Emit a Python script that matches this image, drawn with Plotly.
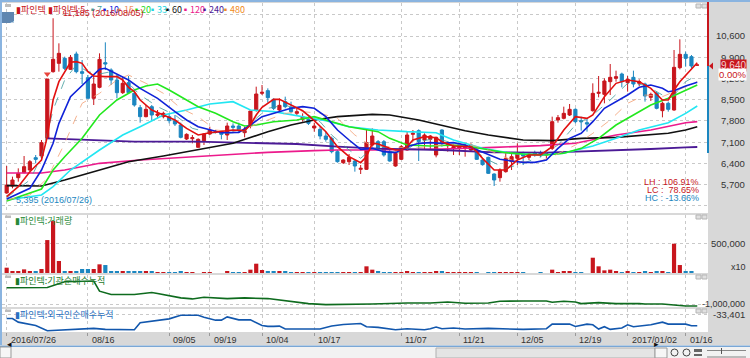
import plotly.graph_objects as go

# ---------- data ----------
opens = [5420,5650,5925,6090,6178,6585,6640,7223,9423,9698,9863,9500,10006,9423,9225,8543,8906,9720,9478,9148,
         8730,9060,8708,8235,7938,8268,7982,7938,7938,7806,7663,7201,7212,6926,7146,7366,7421,7410,7333,7630,
         7630,7410,7641,8158,8708,8796,8510,8158,8433,8246,8048,7850,7850,7564,7520,7300,7223,6783,6420,6453,
         6475,6200,6200,7003,7113,7113,6783,6310,6530,6838,7355,7476,7168,7190,6673,7498,6981,6893,6893,6893,
         6838,6838,6508,6596,6046,5925,6123,6453,6563,6728,6596,6750,6750,6673,6893,7828,7883,7993,8180,7806,
         7740,8136,8708,8675,9093,9203,9346,9060,9236,9038,9016,8576,8708,8136,8378,8158,9555,9995,9918,9640]
closes = [5680,5848,6068,6288,6453,6530,7080,9181,9830,10028,9533,9896,9423,9368,8543,9016,9830,9676,9148,8730,
          9038,8730,8323,7938,8180,7993,8026,8048,7806,7696,7256,7355,7245,7190,7366,7498,7443,7355,7630,7586,
          7476,7476,8125,8686,8741,8565,8213,8312,8268,8103,8103,7938,7718,7630,7300,7190,6783,6453,6508,6596,
          6310,6233,7080,7300,6893,6673,6475,6728,6948,7333,7388,7113,7333,7300,7256,7058,7036,6948,6948,6970,
          7003,6530,6354,6068,5848,6178,6563,6618,6728,6640,6706,6706,6706,6728,7773,7905,8048,8180,7773,7773,
          7696,8708,8741,9115,9236,9258,9093,9170,9016,9093,8620,8675,8213,8378,8180,9566,9995,9863,9610,9640]
highs = [6310,5958,6233,6640,6508,6673,7168,9181,11185,10358,9918,9973,10083,9808,9313,9313,10028,10391,9533,9313,
         9258,9280,8763,8323,8323,8323,8158,8103,8048,7993,7740,7388,7333,7223,7388,7608,7498,7443,7740,7718,
         7740,7608,8125,8928,8983,8873,8543,8543,8598,8433,8213,8048,7938,7740,7608,7443,7278,6838,6530,6706,
         6530,6343,7498,7553,7168,7168,6860,6783,7003,7443,7498,7520,7388,7333,7278,7520,7113,7036,7003,7058,
         7058,6893,6530,6618,6068,6233,6728,6728,7058,6783,6750,6816,6816,6783,7938,7993,8268,8356,8213,7938,
         7883,9038,9280,9203,9676,9456,9390,9280,9456,9170,9060,8730,8763,8433,8433,10138,10490,10083,9973,9660]
lows = [5395,5573,5793,6068,6156,6398,6530,7223,9390,9423,9478,9478,9368,9016,8543,8323,8873,9478,8983,8543,
        8686,8686,8268,7740,7916,7806,7883,7883,7718,7630,7223,7168,7058,6926,7003,7333,7388,7190,7168,7443,
        7410,7256,7553,8103,8653,8400,8158,8103,8213,8048,7993,7773,7663,7443,7190,7113,6728,6420,6376,6343,
        6123,6046,6178,6948,6838,6618,6453,6288,6508,6816,7113,6475,6838,6838,6596,6948,6783,6673,6673,6618,
        6783,6508,6321,6046,5650,5793,6090,6178,6343,6343,6508,6618,6596,6563,6838,7740,7850,7960,7718,7476,
        7443,8103,8576,8378,8653,9093,8906,8763,8906,8950,8433,8455,8180,7916,8103,8136,9500,9588,9533,9620]

volume = [91000,23000,23000,62000,23000,23000,68000,562000,886000,205000,28000,28000,23000,68000,68000,68000,148000,136000,34000,34000,
          34000,23000,23000,34000,23000,23000,17000,17000,17000,17000,23000,17000,17000,0,17000,17000,0,0,23000,17000,
          17000,17000,57000,159000,51000,23000,28000,28000,28000,17000,17000,17000,17000,17000,17000,17000,17000,17000,11000,11000,
          17000,17000,114000,57000,23000,17000,11000,11000,11000,28000,17000,11000,11000,17000,34000,23000,11000,11000,11000,11000,
          11000,11000,0,11000,17000,11000,11000,11000,11000,11000,0,0,11000,0,57000,17000,34000,34000,17000,17000,
          0,261000,114000,45000,57000,23000,11000,23000,17000,17000,34000,17000,23000,23000,17000,500000,136000,34000,34000,0]

tick_index = [0,14,28,35,44,53,68,78,88,98,107,117]
tick_dates = ["2016/07/26","08/16","09/05","09/19","10/04","10/17","11/07","11/21","12/05","12/19","2017/01/02","01/16"]
price_ticks = [5700,6400,7100,7800,8500,9200,9900,10600]
price_grid = [5000,5700,6400,7100,7800,8500,9200,9900,10600,11300]

ma5_x = [0,2,4,6,7,8,9,11,12,13,14,15,17,19,20,21,22,23,25,27,29,31,33,35,37,39,41,42,43,44,46,47,49,51,53,55,57,59,61,62,63,64,66,67,68,69,70,72,74,75,77,79,80,81,82,84,86,88,90,92,94,96,98,100,101,103,105,107,109,111,113,114,115,116,118,119]
ma5_y = [5300,5628,6123,6508,7278,8488,9093,9731,9753,9698,9423,9280,9258,9258,9148,8906,8763,8488,8158,7993,7828,7553,7333,7410,7443,7498,7476,7663,7993,8246,8510,8510,8323,8136,7806,7443,6948,6618,6420,6618,7058,7036,6893,6838,6838,6948,7168,7278,7245,7113,6970,6948,6948,6783,6563,6178,6178,6508,6673,6673,6948,7498,7938,7883,7993,8598,9038,9148,9093,8873,8488,8488,8818,9093,9533,9720]
ma7_x = [0,4,6,8,10,12,14,16,18,21,23,26,29,32,35,38,41,43,45,48,51,54,56,59,61,63,65,68,71,74,77,80,83,86,89,92,95,98,101,104,107,110,113,115,117,119]
ma7_y = [5265,5848,6618,8158,9148,9643,9423,9346,9423,9038,8653,8268,7993,7553,7410,7388,7443,7883,8213,8323,8103,7773,7333,6838,6563,6893,6838,6728,7113,7223,7058,6893,6508,6233,6398,6618,7003,7663,7993,8488,9038,8983,8653,8653,9093,9313]
ma10_x = [0,4,6,8,9,11,14,16,17,19,21,23,26,29,31,33,35,37,40,42,44,47,49,51,53,55,57,59,61,63,65,67,69,71,73,75,77,79,81,83,85,87,89,91,93,95,97,99,101,103,105,107,109,111,113,114,115,117,119]
ma10_y = [5221,5573,6178,7058,7718,8598,9148,9500,9533,9346,9148,8873,8543,8103,7828,7608,7498,7410,7421,7663,7938,8103,8213,8268,8213,7938,7498,7168,6860,6893,6783,6750,6948,7058,7080,7058,7080,7003,6838,6673,6530,6475,6431,6431,6508,6893,7223,7388,7773,8213,8433,8653,8906,8983,8873,8763,8796,8950,9071]
ma15_x = [0,4,7,10,13,16,19,21,24,27,30,33,36,39,42,45,48,51,54,57,60,63,66,70,75,79,83,87,91,94,98,101,104,107,110,113,117,119]
ma15_y = [5188,5353,5903,7058,8378,8708,9148,9313,9038,8708,8213,7938,7498,7443,7608,7828,8048,8103,8048,7883,7333,6948,6948,6893,7003,7058,6838,6508,6398,6618,7003,7388,7828,8378,8653,8598,8928,9093]
ma20_x = [0,6,8,10,13,16,19,22,24,26,28,31,33,36,39,41,43,46,50,53,56,59,63,64,66,69,73,77,80,83,86,89,93,96,99,102,105,108,111,114,117,119]
ma20_y = [5155,5551,6178,6618,7223,7993,8488,8818,8950,9016,8818,8488,8268,8048,7773,7630,7663,7773,7828,7938,7773,7608,7476,7443,7223,7003,6970,7003,6948,6860,6750,6706,6673,6728,6893,7223,7663,7993,8323,8543,8818,8983]
ma33_x = [0,6,8,11,16,20,23,27,31,35,39,42,46,51,55,59,64,69,74,77,82,87,92,96,101,105,109,114,117,119]
ma33_y = [5188,5353,5628,6178,6838,7333,7608,7993,8158,8356,8433,8158,8103,7938,7806,7608,7498,7443,7410,7168,6893,6728,6673,6728,6970,7223,7498,7740,8048,8290]
ma60_x = [0,6,10,16,21,27,33,39,45,49,53,57,63,66,71,79,83,89,94,99,105,111,114,117,119]
ma60_y = [5661,5650,5848,6178,6453,6640,6838,7058,7443,7663,7828,7938,8015,7993,7828,7476,7333,7168,7146,7223,7256,7333,7388,7498,7608]
ma120_x = [0,6,10,16,23,31,39,45,53,57,63,75,84,92,98,105,111,114,117,119]
ma120_y = [6079,6079,6178,6398,6508,6596,6673,6761,6816,6838,6838,6871,6926,6981,7058,7333,7498,7608,7740,7773]
ma240_x = [7,14,22,33,42,50,57,64,75,84,93,99,105,111,117,119]
ma240_y = [7223,7168,7113,7113,7080,7036,6948,6882,6838,6761,6750,6783,6838,6871,6926,6937]

inst_x = [0,7,10,15,16,18,22,25,26,30,32,34,38,41,45,48,52,55,60,63,69,73,76,79,83,85,89,93,94,96,98,99,102,105,109,110,113,115,117,119]
inst_y = [-755000,-750000,-665000,-655000,-805000,-855000,-855000,-825000,-840000,-905000,-920000,-895000,-915000,-905000,-915000,-950000,-990000,-1005000,-1005000,-995000,-980000,-980000,-965000,-985000,-980000,-955000,-950000,-950000,-970000,-955000,-965000,-990000,-975000,-990000,-990000,-995000,-995000,-1015000,-1025000,-1025000]
fore_x = [0,1,2,5,7,8,12,15,17,22,23,24,26,28,30,33,34,36,37,38,40,42,44,45,46,47,48,54,56,58,61,62,64,65,67,69,72,73,74,75,77,79,83,89,93,94,97,98,100,101,102,103,104,106,107,108,110,111,113,114,117,118,119]
fore_y = [-36000,-36000,-38200,-40200,-43400,-43200,-42400,-42000,-42600,-42800,-38600,-38200,-37000,-36200,-34000,-34000,-35200,-37000,-37000,-35000,-36800,-36800,-40200,-40800,-40800,-40600,-42400,-42400,-40600,-39600,-39000,-41000,-41400,-41800,-42800,-42200,-42800,-42200,-41200,-42200,-41800,-42400,-42000,-42600,-42200,-39400,-39400,-40800,-39400,-39800,-42400,-41000,-42600,-41800,-39800,-41000,-40000,-39800,-38200,-39400,-39400,-40400,-40400]

RED, BLUE = "#c8161d", "#1b86c0"
W, H = 750, 358
FONT = "Liberation Sans, sans-serif"
def px(x): return x / W
def py(y): return 1 - y / H

fig = go.Figure()
fig.add_trace(go.Candlestick(x=list(range(len(opens))), open=opens, high=highs, low=lows, close=closes,
    increasing=dict(line=dict(color=RED, width=1), fillcolor=RED),
    decreasing=dict(line=dict(color=BLUE, width=1), fillcolor=BLUE),
    whiskerwidth=0, showlegend=False, hoverinfo="skip"))

for xs, ys, col, w, dash in [
    (ma120_x, ma120_y, "#ec1a8c", 1.6, None),
    (ma240_x, ma240_y, "#4b1a96", 1.8, None),
    (ma60_x, ma60_y, "#111111", 1.6, None),
    (ma33_x, ma33_y, "#22e6f2", 1.6, None),
    (ma20_x, ma20_y, "#22e81e", 1.6, None),
    (ma15_x, ma15_y, "#f3a074", 0.8, "dash"),
    (ma7_x, ma7_y, "#3f9a9a", 0.8, "dash"),
    (ma10_x, ma10_y, "#0f22d8", 1.6, None),
    (ma5_x, ma5_y, "#e21010", 1.6, None)]:
    fig.add_trace(go.Scatter(x=xs, y=ys, mode="lines", line=dict(color=col, width=w, dash=dash),
                             showlegend=False, hoverinfo="skip"))

fig.add_trace(go.Scatter(x=[7], y=[9346], mode="markers",
    marker=dict(symbol="triangle-down", size=6, color="#e8453c", line=dict(width=0)),
    showlegend=False, hoverinfo="skip"))

bar_colors = [RED if c >= o else BLUE for o, c in zip(opens, closes)]
fig.add_trace(go.Bar(x=list(range(len(volume))), y=volume, marker=dict(color=bar_colors, line=dict(width=0)),
                     width=0.72, xaxis="x2", yaxis="y2", showlegend=False, hoverinfo="skip"))
fig.add_trace(go.Scatter(x=inst_x, y=inst_y, mode="lines", line=dict(color="#0e6b1e", width=1.6),
                         xaxis="x3", yaxis="y3", showlegend=False, hoverinfo="skip"))
fig.add_trace(go.Scatter(x=fore_x, y=fore_y, mode="lines", line=dict(color="#1257ad", width=1.6),
                         xaxis="x4", yaxis="y4", showlegend=False, hoverinfo="skip"))

xrange = [-0.805, 120.85]
xcommon = dict(domain=[px(2), px(708)], range=xrange, tickmode="array", tickvals=tick_index,
               showticklabels=False, showgrid=True, gridcolor="#c9c9c9", griddash="dot", gridwidth=1,
               zeroline=False, showline=False, fixedrange=True, rangeslider=dict(visible=False))
ycommon = dict(side="right", tickmode="array", showticklabels=False, showgrid=True, gridcolor="#c9c9c9",
               griddash="dot", gridwidth=1, zeroline=False, showline=False, fixedrange=True)

annotations = []
def label(x, y, text, color="#333333", size=9, anchor="left", **kw):
    annotations.append(dict(x=px(x), y=py(y), xref="paper", yref="paper", text=text, showarrow=False,
                            xanchor=anchor, yanchor="middle", font=dict(color=color, size=size, family=FONT),
                            borderpad=0, **kw))

for v in price_ticks:
    annotations.append(dict(x=px(747), y=v, xref="paper", yref="y", text=f"{v:,}", showarrow=False,
                            xanchor="right", yanchor="middle", font=dict(color="#333333", size=9.5, family=FONT)))
annotations.append(dict(x=px(747), y=500000, xref="paper", yref="y2", text="500,000", showarrow=False,
                        xanchor="right", font=dict(color="#333333", size=9.5, family=FONT)))
annotations.append(dict(x=px(747), y=-1000000, xref="paper", yref="y3", text="-1,000,000", showarrow=False,
                        xanchor="right", font=dict(color="#333333", size=9, family=FONT)))
annotations.append(dict(x=px(747), y=-33401, xref="paper", yref="y4", text="-33,401", showarrow=False,
                        xanchor="right", font=dict(color="#333333", size=9.5, family=FONT)))
label(747, 267, "x10", size=9, anchor="right")

for i, d in zip(tick_index, tick_dates):
    annotations.append(dict(x=i, y=py(340), xref="x4", yref="paper", text=d, showarrow=False, xanchor="left",
                            yanchor="middle", xshift=2, font=dict(color="#333333", size=9, family=FONT)))

KR = "Noto Sans CJK KR"
def klabel(x, y, text, color, size=9):
    annotations.append(dict(x=px(x), y=py(y), xref="paper", yref="paper", text=text, showarrow=False,
                            xanchor="left", yanchor="middle", font=dict(color=color, size=size, family=KR)))

klabel(14, 9, "▮파인텍", "#c8161d")
klabel(46, 9, "▮파인텍:5", "#c8161d")
for x, t, c in [(86, "▪7", "#3f9a9a"), (98, "▪10", "#0f22d8"), (113, "▪15", "#f09060"), (130, "▪20", "#22d81e"),
                (146, "▪33", "#22d6e2"), (161, "▪60", "#111111"), (179, "▪120", "#ec1a8c"),
                (198, "▪240", "#4b1a96"), (219, "▪480", "#f08a20")]:
    klabel(x, 9, t, c)
label(62, 13, "11,185 (2016/08/05)", "#c8161d", 9)
label(15, 200, "5,395 (2016/07/26)", "#1b86c0", 9)
klabel(13, 220, "▮파인텍:거래량", "#2a8a3a")
klabel(13, 280, "▮파인텍:기관순매수누적", "#1a7a2a")
klabel(13, 314, "▮파인텍:외국인순매수누적", "#2a6fc0")

label(700, 182, "LH : 106.91%", RED, 9, "right")
label(700, 190, "LC :  78.65%", RED, 9, "right")
label(700, 198, "HC : -13.66%", BLUE, 9, "right")

annotations.append(dict(x=px(747), y=py(65), xref="paper", yref="paper", text="9,640", showarrow=False,
                        xanchor="right", yanchor="middle", bgcolor=RED, borderpad=0,
                        font=dict(color="#f4d0d0", size=10, family=FONT)))
annotations.append(dict(x=px(747), y=py(74), xref="paper", yref="paper", text="0.00%", showarrow=False,
                        xanchor="right", yanchor="middle", bgcolor="#ffffff", borderpad=0,
                        font=dict(color=RED, size=9.5, family=FONT)))
annotations.append(dict(x=px(8), y=py(17), xref="paper", yref="paper", text="호", showarrow=False,
                        font=dict(color="white", size=8, family=KR)))
annotations.append(dict(x=px(5), y=py(352), xref="paper", yref="paper", text="◂", showarrow=False,
                        font=dict(color="#111111", size=9)))
annotations.append(dict(x=px(661), y=py(352), xref="paper", yref="paper", text="▸", showarrow=False,
                        font=dict(color="#111111", size=9)))

def rect(x0, y0, x1, y1, fill, line=None, layer="above", lw=1):
    return dict(type="rect", xref="paper", yref="paper", x0=px(x0), x1=px(x1), y0=py(y0), y1=py(y1),
                fillcolor=fill, line=dict(color=line or fill, width=lw if line else 0), layer=layer)

shapes = [
    rect(0, 0, 750, 2, "#8ab4e0"),
    rect(0, 0, 2, 345, "#8ab4e0"),
    rect(0, 345, 750, 358, "#f2f2f2"),
    rect(0, 345.5, 750, 347, "#7aa7d6"),
    rect(0, 347, 11, 358, "#f6f6f6", "#999999"),
    rect(436, 348, 655, 358, "#e4e4e4", "#b0b0b0"),
    rect(655, 348, 667, 358, "#f6f6f6", "#999999"),
    rect(2, 12, 14, 23, "#5f86b0"),
    rect(5, 4, 11, 7, "#bdbdbd"),
    rect(5, 215.5, 11, 218, "#bdbdbd"),
    rect(5, 275.5, 11, 278, "#bdbdbd"),
    rect(5, 309.5, 11, 312, "#bdbdbd"),
    rect(696, 4, 701, 8, "#e0e0e0", "#b5b5b5"),
    rect(702, 4, 707, 8, "#e0e0e0", "#b5b5b5"),
    rect(696, 215, 701, 219, "#e0e0e0", "#b5b5b5"),
    rect(702, 215, 707, 219, "#e0e0e0", "#b5b5b5"),
    rect(696, 275, 701, 279, "#e0e0e0", "#b5b5b5"),
    rect(702, 275, 707, 279, "#e0e0e0", "#b5b5b5"),
    rect(696, 309, 701, 313, "#e0e0e0", "#b5b5b5"),
    rect(702, 309, 707, 313, "#e0e0e0", "#b5b5b5"),
    rect(707, 2, 709, 66, RED),
    rect(707, 66, 709, 153, BLUE),
    dict(type="path", xref="paper", yref="paper", layer="above", fillcolor=RED, line=dict(width=0),
         path=f"M {px(709)} {py(66)} L {px(713)} {py(62.5)} L {px(713)} {py(69.5)} Z"),
    dict(type="circle", xref="paper", yref="paper", x0=px(671), x1=px(678), y0=py(356), y1=py(349),
         line=dict(color="#444444", width=1), fillcolor="rgba(0,0,0,0)", layer="above"),
    dict(type="circle", xref="paper", yref="paper", x0=px(683), x1=px(690), y0=py(356), y1=py(349),
         line=dict(color="#444444", width=1), fillcolor="rgba(0,0,0,0)", layer="above"),
    rect(694, 349, 702, 352, "#666666"),
    rect(694, 354, 702, 356, "#666666"),
    rect(707, 350, 746, 351, "#888888"),
    rect(721, 348, 722, 354, "#555555"),
    rect(707, 356, 746, 358, "#bbbbbb"),
]

fig.update_layout(
    width=W, height=H, margin=dict(l=0, r=0, t=0, b=0), autosize=False,
    paper_bgcolor="#d8d8d8", plot_bgcolor="#ffffff", showlegend=False, boxgap=0.22,
    xaxis={**xcommon, "anchor": "y"},
    xaxis2={**xcommon, "anchor": "y2", "matches": "x"},
    xaxis3={**xcommon, "anchor": "y3", "matches": "x"},
    xaxis4={**xcommon, "anchor": "y4", "matches": "x", "ticks": "outside", "ticklen": 3, "tickcolor": "#999999"},
    yaxis={**ycommon, "domain": [py(213), py(3)], "range": [4759, 11689], "tickvals": price_grid, "anchor": "x"},
    yaxis2={**ycommon, "domain": [py(273), py(215)], "range": [0, 990000], "tickvals": [500000], "anchor": "x2"},
    yaxis3={**ycommon, "domain": [py(307), py(275)], "range": [-1040000, -565000], "tickvals": [-1000000], "anchor": "x3"},
    yaxis4={**ycommon, "domain": [py(332), py(309)], "range": [-44201, -30201], "tickvals": [-33401], "anchor": "x4"},
    annotations=annotations, shapes=shapes,
)
fig.write_html("out.html", config={"displayModeBar": False},
               post_script="document.body.style.margin='0';document.body.style.overflow='hidden';")
